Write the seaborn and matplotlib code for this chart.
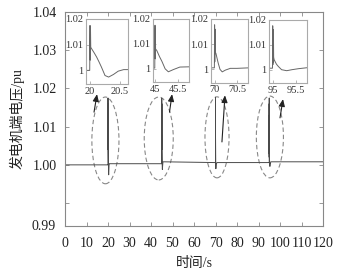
import matplotlib
matplotlib.use("Agg")
import matplotlib.pyplot as plt
import seaborn as sns
import pandas as pd
from matplotlib.patches import Ellipse

# ---------------- data ----------------
ev1_t = [19.93, 19.995, 20.0, 20.004, 20.008, 20.012, 20.03, 20.07, 20.11, 20.15, 20.19, 20.25, 20.31, 20.39, 20.47, 20.56, 20.64]
ev1_v = [1.0, 1.0, 1.0175, 1.004, 1.016, 1.009, 1.0083, 1.0068, 1.0052, 1.0033, 1.0013, 0.998, 0.9974, 0.9984, 0.9997, 1.0003, 1.0003]

ev2_t = [44.95, 44.995, 45.0, 45.004, 45.008, 45.012, 45.04, 45.1, 45.15, 45.22, 45.29, 45.4, 45.54, 45.75]
ev2_v = [1.0003, 1.0003, 1.0175, 1.004, 1.016, 1.008, 1.0073, 1.0048, 1.003, 1.0, 0.9988, 0.9997, 1.0007, 1.0008]

ev3_t = [69.92, 69.995, 70.0, 70.004, 70.008, 70.012, 70.03, 70.08, 70.12, 70.17, 70.24, 70.35, 70.5, 70.76]
ev3_v = [1.0006, 1.0006, 1.0177, 1.003, 1.016, 1.007, 1.0063, 1.0025, 1.0, 0.999, 0.9997, 1.0004, 1.0004, 1.0006]

ev4_t = [94.93, 94.995, 95.0, 95.004, 95.008, 95.012, 95.016, 95.02, 95.03, 95.08, 95.12, 95.19, 95.3, 95.41, 95.55, 95.74]
ev4_v = [1.0006, 1.0006, 1.0175, 1.002, 1.016, 1.003, 1.013, 1.005, 1.004, 1.0022, 1.0013, 1.0, 0.9996, 1.0, 1.0004, 1.0008]

main_t = [0.0] + ev1_t + ev2_t + ev3_t + ev4_t + [120.0]
main_v = [1.0] + ev1_v + ev2_v + ev3_v + ev4_v + [1.0008]

x_ticks = [0, 10, 20, 30, 40, 50, 60, 70, 80, 90, 100, 110, 120]
y_ticks = [1.00, 1.01, 1.02, 1.03, 1.04]
y_tick_labels = ["1.00", "1.01", "1.02", "1.03", "1.04"]
y_bottom_label = "0.99"

inset_xlims = [(19.933, 20.633), (44.95, 45.745), (69.92, 70.75), (94.927, 95.74)]
inset_xticks = [[20, 20.5], [45, 45.5], [70, 70.5], [95, 95.5]]
inset_xticklabels = [["20", "20.5"], ["45", "45.5"], ["70", "70.5"], ["95", "95.5"]]
inset_yticks = [1.0, 1.01, 1.02]
inset_yticklabels = ["1", "1.01", "1.02"]

# ellipse (center t, center v, width s, height pu)
ellipses = [(18.8, 1.0064, 12.6, 0.0227), (43.6, 1.0069, 13.5, 0.0217),
            (70.7, 1.0072, 11.2, 0.0212), (95.3, 1.0073, 12.6, 0.0214)]
# arrows (tail -> tip)
arrows = [((13.5, 1.0138), (14.9, 1.0185)), ((48.6, 1.0138), (49.8, 1.0185)),
          ((73.0, 1.0060), (74.4, 1.0182)), ((100.0, 1.0123), (101.4, 1.0172))]

# ---------------- style ----------------
sns.set_theme(style="ticks")
plt.rcParams["font.family"] = ["Liberation Serif", "Noto Sans CJK SC"]
plt.rcParams["axes.unicode_minus"] = False

W, H = 338, 273
fig = plt.figure(figsize=(W / 100, H / 100), dpi=100)
ax = fig.add_axes([65 / W, 1 - 226 / H, (323 - 65) / W, (226 - 12) / H])

df = pd.DataFrame({"t": main_t, "v": main_v})
sns.lineplot(data=df, x="t", y="v", ax=ax, sort=False, estimator=None,
             color="#4a4a4a", linewidth=0.7)

ax.set_xlim(0, 120)
ax.set_ylim(0.984, 1.04)
ax.set_xticks(x_ticks)
ax.set_xticklabels([str(v) for v in x_ticks])
ax.set_yticks([0.99] + y_ticks)
ax.set_yticklabels([""] + y_tick_labels)
ax.text(-0.035, 0.984, y_bottom_label, transform=ax.get_yaxis_transform(),
        ha="right", va="center", fontsize=10, color="#222222")
ax.tick_params(direction="in", top=True, right=True, length=3, width=0.6,
               color="#888888", labelsize=10, labelcolor="#222222")
ax.tick_params(axis="y", pad=6)
ax.tick_params(axis="x", pad=8)
for s in ax.spines.values():
    s.set_color("#888888")
    s.set_linewidth(0.8)
ax.set_xlabel("时间/s", fontsize=10, color="#222222", labelpad=5)
ax.set_ylabel("发电机端电压/pu", fontsize=10, color="#222222", labelpad=6)

for (cx, cy, w, h) in ellipses:
    e = Ellipse((cx, cy), w, h, fill=False, edgecolor="#888888",
                linestyle=(0, (4, 2.5)), linewidth=0.8)
    ax.add_patch(e)

for (tail, tip) in arrows:
    ax.annotate("", xy=tip, xytext=tail,
                arrowprops=dict(arrowstyle="-|>,head_length=0.35,head_width=0.15",
                                color="#222222", linewidth=0.8, shrinkA=0, shrinkB=0))

# insets (pixel boxes: left, top, right, bottom)
inset_boxes = [(86, 19, 128, 84), (152.7, 19, 189.3, 82), (211, 19, 248.3, 82.7), (269.3, 19.5, 307.3, 83)]
events = [(ev1_t, ev1_v), (ev2_t, ev2_v), (ev3_t, ev3_v), (ev4_t, ev4_v)]
for i, ((l, t, r, b), (et, ev)) in enumerate(zip(inset_boxes, events)):
    ia = fig.add_axes([l / W, 1 - b / H, (r - l) / W, (b - t) / H])
    idf = pd.DataFrame({"t": et, "v": ev})
    sns.lineplot(data=idf, x="t", y="v", ax=ia, sort=False, estimator=None,
                 color="#666666", linewidth=0.7)
    ia.set_xlim(*inset_xlims[i])
    ia.set_ylim(0.9947, 1.02)
    ia.set_xticks(inset_xticks[i])
    ia.set_xticklabels(inset_xticklabels[i])
    ia.set_yticks(inset_yticks)
    ia.set_yticklabels(inset_yticklabels)
    ia.set_xlabel("")
    ia.set_ylabel("")
    ia.tick_params(direction="in", length=2, width=0.5, color="#999999",
                   labelsize=7.5, labelcolor="#333333", pad=2)
    for s in ia.spines.values():
        s.set_color("#aaaaaa")
        s.set_linewidth(0.8)
    ia.set_facecolor("white")

fig.savefig("out.png", dpi=100)
